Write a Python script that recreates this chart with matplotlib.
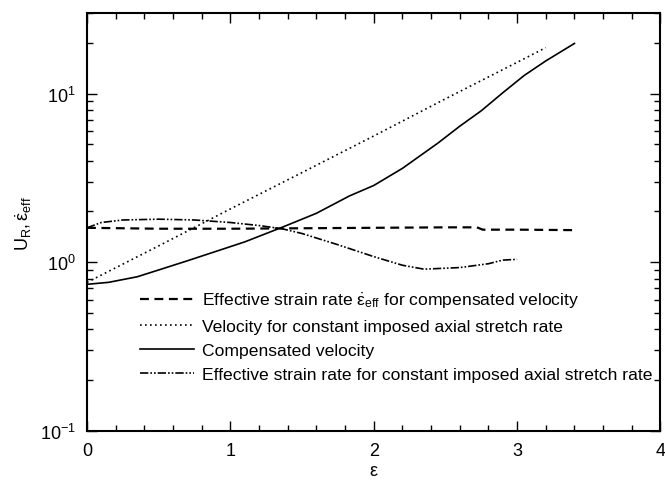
import matplotlib
matplotlib.use("Agg")
import matplotlib.pyplot as plt
from matplotlib.ticker import MultipleLocator, LogLocator, NullFormatter

plt.rcParams["font.family"] = ["Liberation Sans", "DejaVu Sans"]
plt.rcParams["mathtext.fontset"] = "custom"
plt.rcParams["mathtext.rm"] = "Liberation Sans"
plt.rcParams["mathtext.it"] = "Liberation Sans"
plt.rcParams["mathtext.bf"] = "Liberation Sans:bold"
plt.rcParams["axes.unicode_minus"] = False

# Compensated velocity
comp_x = [0.0, 0.15, 0.35, 0.5, 0.7, 0.9, 1.1, 1.36, 1.6, 1.83, 2.0, 2.2, 2.45, 2.6, 2.75, 2.9, 3.05, 3.2, 3.4]
comp_y = [0.74, 0.76, 0.82, 0.90, 1.02, 1.16, 1.32, 1.61, 1.95, 2.47, 2.85, 3.6, 5.1, 6.4, 7.9, 10.1, 12.8, 15.6, 19.8]

# Velocity for constant imposed axial stretch rate
vel_x = [0.0, 0.5, 1.0, 1.5, 2.0, 2.5, 3.0, 3.2]
vel_y = [0.76, 1.25, 2.07, 3.40, 5.6, 9.3, 15.3, 18.7]

# Effective strain rate for compensated velocity
eff_comp_x = [0.0, 0.5, 1.0, 1.5, 2.0, 2.5, 2.72, 2.76, 3.0, 3.4]
eff_comp_y = [1.60, 1.58, 1.58, 1.59, 1.60, 1.61, 1.61, 1.56, 1.56, 1.55]

# Effective strain rate for constant imposed axial stretch rate
eff_const_x = [0.0, 0.1, 0.25, 0.5, 0.75, 1.0, 1.2, 1.36, 1.5, 1.75, 2.0, 2.2, 2.35, 2.6, 2.8, 2.9, 3.0]
eff_const_y = [1.60, 1.72, 1.78, 1.80, 1.78, 1.72, 1.65, 1.58, 1.48, 1.27, 1.08, 0.96, 0.91, 0.93, 0.98, 1.03, 1.04]

labels = [
    r"Effective strain rate $\dot{\varepsilon}_{\mathrm{eff}}$ for compensated velocity",
    "Velocity for constant imposed axial stretch rate",
    "Compensated velocity",
    "Effective strain rate for constant imposed axial stretch rate",
]

fig = plt.figure(figsize=(6.65, 4.81), dpi=100)
ax = fig.add_axes([0.1308, 0.1019, 0.8624, 0.869])

lw = 1.2
ax.plot(eff_comp_x, eff_comp_y, color="black", lw=1.6, linestyle=(0, (4, 2.5)), label=labels[0])
ax.plot(vel_x, vel_y, color="black", lw=1.2, linestyle=(0, (1, 2)), label=labels[1])
ax.plot(comp_x, comp_y, color="black", lw=lw, linestyle="-", label=labels[2])
ax.plot(eff_const_x, eff_const_y, color="black", lw=lw,
        linestyle=(0, (5, 1.2, 1, 1.2, 1, 1.2)), label=labels[3])

ax.set_yscale("log")
ax.set_xlim(0, 4)
ax.set_ylim(0.1, 30)

ax.xaxis.set_major_locator(MultipleLocator(1))
ax.xaxis.set_minor_locator(MultipleLocator(0.2))
ax.yaxis.set_major_locator(LogLocator(base=10, numticks=10))
ax.yaxis.set_minor_locator(LogLocator(base=10, subs=range(2, 10), numticks=20))
ax.yaxis.set_minor_formatter(NullFormatter())

ax.tick_params(which="both", direction="in", top=True, right=True, labelsize=13, width=1.0)
ax.tick_params(which="major", length=7, pad=8)
ax.tick_params(which="minor", length=4)
for s in ax.spines.values():
    s.set_linewidth(1.5)

ax.set_xlabel(r"$\varepsilon$", fontsize=13, labelpad=2)
ax.set_ylabel(r"$\mathrm{U_{R}},\dot{\varepsilon}_{\mathrm{eff}}$", fontsize=13, labelpad=4)

ax.legend(loc="upper left", bbox_to_anchor=(0.092, 0.335), frameon=False,
          fontsize=12.6, handlelength=3.1, handletextpad=0.45, labelspacing=0.5,
          borderpad=0, borderaxespad=0)

fig.savefig("out.png", dpi=100)
